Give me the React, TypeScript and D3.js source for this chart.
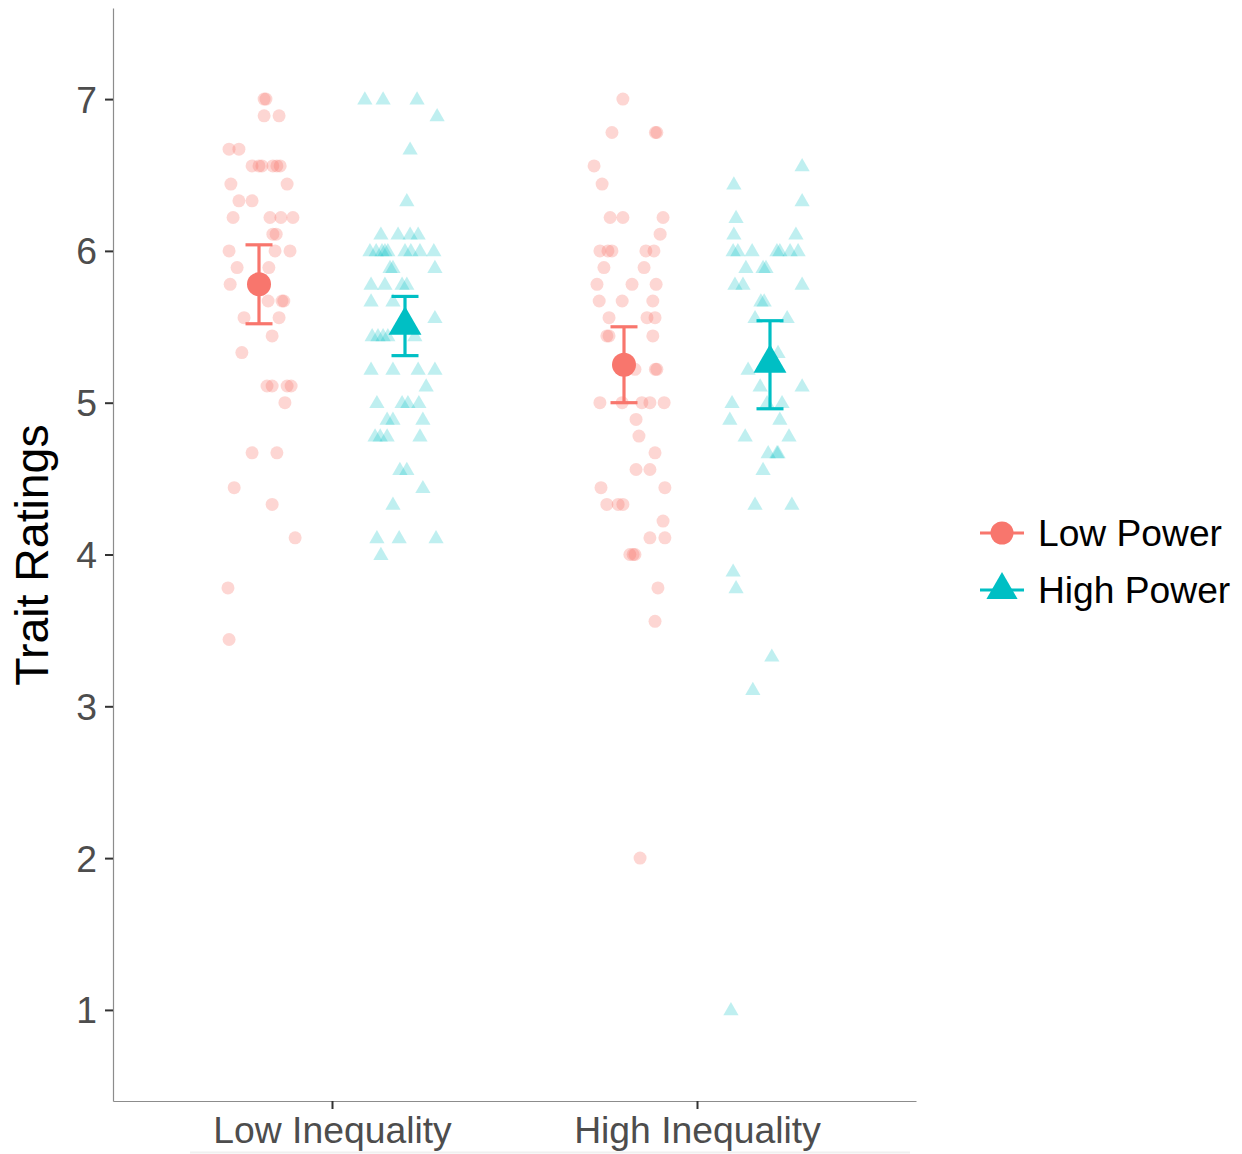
import { useRef, useLayoutEffect } from 'react';
import * as d3 from 'd3';

const categories = ['Low Inequality', 'High Inequality'];
const powerLevels = ['Low Power', 'High Power'];
const powerColors = ['#F8766D', '#00BFC4'];
const yTicks = [1, 2, 3, 4, 5, 6, 7];

// raw ratings: [jitter offset (x units), rating]
const lowIneqLowPower = [
  [0.014, 7.0], [0.019, 7.0], [0.014, 6.89], [0.055, 6.89], [-0.082, 6.67], [-0.055, 6.67],
  [-0.019, 6.56], [0, 6.56], [0.008, 6.56], [0.038, 6.56], [0.049, 6.56], [0.058, 6.56],
  [-0.077, 6.44], [0.077, 6.44], [-0.055, 6.33], [-0.019, 6.33],
  [-0.071, 6.22], [0.03, 6.22], [0.06, 6.22], [0.093, 6.22], [0.038, 6.11], [0.047, 6.11],
  [-0.082, 6.0], [0.044, 6.0], [0.085, 6.0], [-0.06, 5.89], [0.027, 5.89], [-0.079, 5.78],
  [0.025, 5.67], [0.063, 5.67], [0.068, 5.67], [-0.041, 5.56], [0.055, 5.56], [0.036, 5.44],
  [-0.047, 5.33], [0.022, 5.11], [0.036, 5.11], [0.077, 5.11], [0.088, 5.11], [0.071, 5.0],
  [-0.019, 4.67], [0.049, 4.67], [-0.068, 4.44], [0.036, 4.33], [0.099, 4.11],
  [-0.085, 3.78], [-0.082, 3.44],
];
const lowIneqHighPower = [
  [-0.11, 7.0], [-0.06, 7.0], [0.033, 7.0], [0.088, 6.89], [0.014, 6.67], [0.005, 6.33],
  [-0.066, 6.11], [-0.019, 6.11], [0.014, 6.11], [0.036, 6.11],
  [-0.096, 6.0], [-0.079, 6.0], [-0.063, 6.0], [-0.055, 6.0], [-0.047, 6.0], [0, 6.0],
  [0.016, 6.0], [0.041, 6.0], [0.079, 6.0], [-0.041, 5.89], [-0.033, 5.89], [0.082, 5.89],
  [-0.093, 5.78], [-0.055, 5.78], [-0.008, 5.78], [0.005, 5.78], [-0.093, 5.67], [-0.033, 5.67],
  [0.082, 5.56], [-0.09, 5.44], [-0.074, 5.44], [-0.06, 5.44], [-0.047, 5.44], [0.027, 5.44],
  [-0.093, 5.22], [-0.033, 5.22], [0.036, 5.22], [0.082, 5.22], [0.058, 5.11],
  [-0.077, 5.0], [-0.008, 5.0], [0.008, 5.0], [0.038, 5.0], [-0.049, 4.89], [-0.033, 4.89],
  [0.049, 4.89], [-0.082, 4.78], [-0.068, 4.78], [-0.049, 4.78], [0.041, 4.78],
  [-0.014, 4.56], [0.005, 4.56], [0.049, 4.44], [-0.033, 4.33],
  [-0.077, 4.11], [-0.016, 4.11], [0.085, 4.11], [-0.066, 4.0],
];
const highIneqLowPower = [
  [-0.003, 7.0], [-0.033, 6.78], [0.086, 6.78], [0.09, 6.78], [-0.082, 6.56], [-0.06, 6.44],
  [-0.038, 6.22], [-0.003, 6.22], [0.107, 6.22], [0.099, 6.11],
  [-0.066, 6.0], [-0.044, 6.0], [-0.033, 6.0], [0.06, 6.0], [0.082, 6.0], [-0.055, 5.89],
  [0.055, 5.89], [-0.074, 5.78], [0.022, 5.78], [0.088, 5.78], [-0.068, 5.67], [-0.005, 5.67],
  [0.079, 5.67], [-0.041, 5.56], [0.063, 5.56], [0.085, 5.56], [-0.047, 5.44], [-0.041, 5.44],
  [0.079, 5.44], [0.03, 5.22], [0.086, 5.22], [0.09, 5.22],
  [-0.066, 5.0], [-0.005, 5.0], [0.049, 5.0], [0.071, 5.0], [0.11, 5.0], [0.033, 4.89],
  [0.041, 4.78], [0.085, 4.67], [0.033, 4.56], [0.071, 4.56], [-0.063, 4.44], [0.112, 4.44],
  [-0.047, 4.33], [-0.016, 4.33], [-0.003, 4.33], [0.107, 4.22], [0.071, 4.11], [0.112, 4.11],
  [0.016, 4.0], [0.025, 4.0], [0.03, 4.0], [0.093, 3.78], [0.085, 3.56], [0.044, 2.0],
];
const highIneqHighPower = [
  [0.088, 6.56], [-0.099, 6.44], [0.088, 6.33], [-0.093, 6.22], [-0.099, 6.11], [0.071, 6.11],
  [-0.101, 6.0], [-0.088, 6.0], [-0.049, 6.0], [0.019, 6.0], [0.027, 6.0], [0.055, 6.0],
  [0.077, 6.0], [-0.066, 5.89], [-0.019, 5.89], [-0.011, 5.89], [-0.096, 5.78], [-0.074, 5.78],
  [0.088, 5.78], [-0.025, 5.67], [-0.016, 5.67], [-0.041, 5.56], [0.047, 5.56], [0.022, 5.33],
  [-0.06, 5.22], [-0.027, 5.11], [0.088, 5.11], [-0.104, 5.0], [-0.008, 5.0], [0.033, 5.0],
  [-0.11, 4.89], [0.027, 4.89], [-0.068, 4.78], [0.052, 4.78], [-0.005, 4.67], [0.019, 4.67],
  [0.022, 4.67], [-0.019, 4.56], [-0.041, 4.33], [0.06, 4.33], [-0.101, 3.89], [-0.093, 3.78],
  [0.005, 3.33], [-0.047, 3.11], [-0.107, 1.0],
];

// summary: mean and error bar limits, per category
const lowPowerMeans = [5.78, 5.25];
const lowPowerLower = [5.52, 5.0];
const lowPowerUpper = [6.04, 5.5];
const highPowerMeans = [5.51, 5.26];
const highPowerLower = [5.31, 4.96];
const highPowerUpper = [5.7, 5.54];

const triPath = (r) => `M0,${-r}L${(r * Math.sqrt(3)) / 2},${r / 2}L${(-r * Math.sqrt(3)) / 2},${r / 2}Z`;

export default function App() {
  const svgRef = useRef(null);

  useLayoutEffect(() => {
    const svgWidth = 1242;
    const svgHeight = 1154;
    const svg = d3.select(svgRef.current).attr('width', svgWidth).attr('height', svgHeight);
    svg.selectAll('*').remove();

    const xScale = d3.scaleLinear().domain([0.4, 2.6]).range([113, 916]);
    const yScale = d3.scaleLinear().domain([0.4, 7.6]).range([1101, 8]);
    const dodge = [-0.2, 0.2];
    const font = '"Liberation Sans", Arial, Helvetica, sans-serif';

    // faint line under the axis labels
    svg.append('line').attr('x1', 190).attr('x2', 910).attr('y1', 1152.5).attr('y2', 1152.5)
      .attr('stroke', '#f0f0f0').attr('stroke-width', 2);

    const groups = [
      { cat: 0, pw: 0, pts: lowIneqLowPower },
      { cat: 0, pw: 1, pts: lowIneqHighPower },
      { cat: 1, pw: 0, pts: highIneqLowPower },
      { cat: 1, pw: 1, pts: highIneqHighPower },
    ];

    const pointsGroup = svg.append('g').attr('class', 'points');
    groups.forEach((g) => {
      const cx = (d) => xScale(g.cat + 1 + dodge[g.pw] + d[0]);
      if (g.pw === 0) {
        pointsGroup.append('g').selectAll('circle')
          .data(g.pts).join('circle')
          .attr('cx', cx).attr('cy', (d) => yScale(d[1]))
          .attr('r', 6.5)
          .attr('fill', powerColors[0]).attr('fill-opacity', 0.3);
      } else {
        pointsGroup.append('g').selectAll('path')
          .data(g.pts).join('path')
          .attr('transform', (d) => `translate(${cx(d)},${yScale(d[1]) + 1})`)
          .attr('d', triPath(8.8))
          .attr('fill', powerColors[1]).attr('fill-opacity', 0.25);
      }
    });

    // means + error bars
    const summary = [
      { means: lowPowerMeans, lo: lowPowerLower, hi: lowPowerUpper },
      { means: highPowerMeans, lo: highPowerLower, hi: highPowerUpper },
    ];
    const sumGroup = svg.append('g').attr('class', 'summary');
    summary.forEach((s, pw) => {
      categories.forEach((c, i) => {
        const x = xScale(i + 1 + dodge[pw]);
        const g = sumGroup.append('g').attr('stroke', powerColors[pw]).attr('stroke-width', 3.2);
        g.append('line').attr('x1', x).attr('x2', x).attr('y1', yScale(s.lo[i])).attr('y2', yScale(s.hi[i]));
        [s.lo[i], s.hi[i]].forEach((v) => {
          g.append('line').attr('x1', x - 13.5).attr('x2', x + 13.5).attr('y1', yScale(v)).attr('y2', yScale(v));
        });
        if (pw === 0) {
          sumGroup.append('circle').attr('cx', x).attr('cy', yScale(s.means[i])).attr('r', 12)
            .attr('fill', powerColors[0]);
        } else {
          sumGroup.append('path').attr('transform', `translate(${x},${yScale(s.means[i])})`)
            .attr('d', triPath(19)).attr('fill', powerColors[1]);
        }
      });
    });

    // axes
    const yAxis = d3.axisLeft(yScale).tickValues(yTicks).tickSize(8).tickPadding(8).tickSizeOuter(0);
    const yAxisDraw = svg.append('g').attr('transform', 'translate(113,0)').call(yAxis);
    const xAxis = d3.axisBottom(xScale).tickValues([1, 2]).tickFormat((d) => categories[d - 1])
      .tickSize(8).tickPadding(8).tickSizeOuter(0);
    const xAxisDraw = svg.append('g').attr('transform', 'translate(0,1101)').call(xAxis);
    [yAxisDraw, xAxisDraw].forEach((a) => {
      a.select('.domain').attr('stroke', '#8c8c8c').attr('stroke-width', 1.2);
      a.selectAll('.tick line').attr('stroke', '#333').attr('stroke-width', 2);
      a.selectAll('.tick text').attr('fill', '#4d4d4d').attr('font-size', 37.3).attr('font-family', font);
    });
    yAxisDraw.selectAll('.tick text').attr('dy', '0.35em');

    svg.append('text')
      .attr('transform', 'translate(48,555) rotate(-90)')
      .attr('text-anchor', 'middle')
      .attr('font-family', font).attr('font-size', 46.4).attr('fill', '#000')
      .text('Trait Ratings');

    // legend
    const legend = svg.append('g').attr('class', 'legend');
    powerLevels.forEach((p, i) => {
      const y = 533 + i * 57;
      const item = legend.append('g').attr('transform', `translate(1002,${y})`);
      item.append('line').attr('x1', -22).attr('x2', 22).attr('stroke', powerColors[i]).attr('stroke-width', 3.2);
      if (i === 0) item.append('circle').attr('r', 11.5).attr('fill', powerColors[i]);
      else item.append('path').attr('d', triPath(18)).attr('fill', powerColors[i]);
      legend.append('text').attr('x', 1038).attr('y', y).attr('dy', '0.35em')
        .attr('font-family', font).attr('font-size', 37.2).attr('fill', '#000').text(p);
    });
  }, []);

  return (
    <div>
      <svg ref={svgRef} style={{ position: 'absolute', left: 0, top: 0 }} />
    </div>
  );
}
